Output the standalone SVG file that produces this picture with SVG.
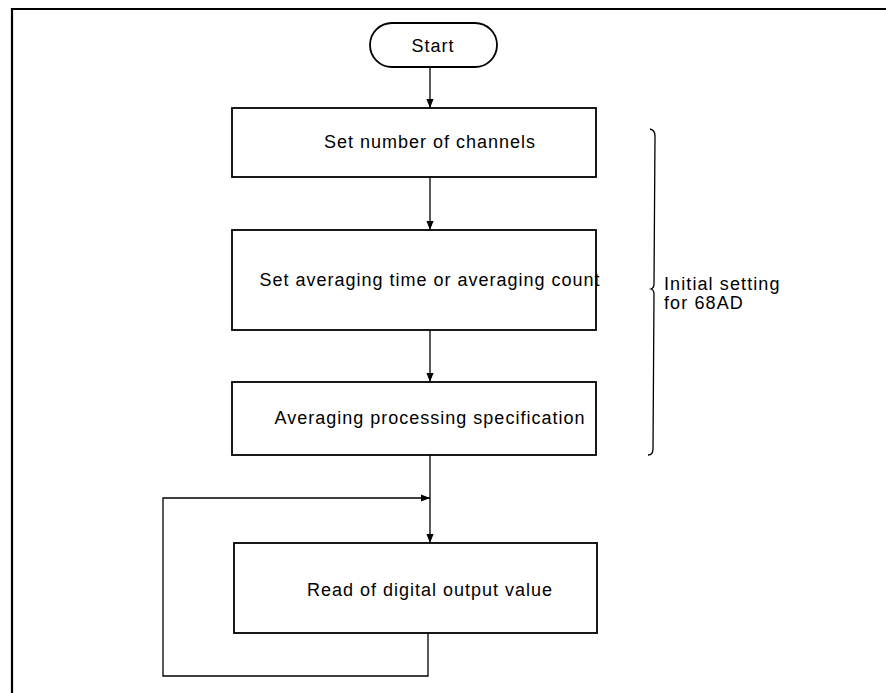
<svg xmlns="http://www.w3.org/2000/svg" width="886" height="693" viewBox="0 0 886 693">
<style>
.b{fill:#fff;stroke:#000;stroke-width:1.8}
.l{fill:none;stroke:#000;stroke-width:1.3}
.t{font-family:"Liberation Sans",Arial,sans-serif;font-size:18px;letter-spacing:1px;fill:#000;text-anchor:middle}
.s{font-family:"Liberation Sans",Arial,sans-serif;font-size:18px;letter-spacing:1.1px;fill:#000}
</style>
<defs>
<marker id="a" viewBox="0 0 10 10" refX="10" refY="5" markerWidth="9" markerHeight="9" markerUnits="userSpaceOnUse" orient="auto">
<path d="M0,1 L10,5 L0,9 Z" fill="#000"/>
</marker>
</defs>
<rect width="886" height="693" fill="#fff"/>
<path d="M12,693 L12,9 L886,9" fill="none" stroke="#000" stroke-width="2.2"/>
<g id="start"><rect class="b" x="370" y="23" width="127" height="44" rx="22"/><text class="t" x="433" y="52">Start</text></g>
<g id="n1"><rect class="b" x="232" y="108" width="364" height="69"/><text class="t" x="430" y="148">Set number of channels</text></g>
<g id="n2"><rect class="b" x="232" y="230" width="364" height="100"/><text class="t" x="430" y="286">Set averaging time or averaging count</text></g>
<g id="n3"><rect class="b" x="232" y="382" width="364" height="73"/><text class="t" x="430" y="424">Averaging processing specification</text></g>
<g id="n4"><rect class="b" x="234" y="543" width="363" height="90"/><text class="t" x="430" y="596">Read of digital output value</text></g>
<g id="brace"><path class="l" stroke-width="1.6" d="M650,129 Q655,130 655,136 L654,284 Q654,288 651,289 Q654,290 654,294 L653,449 Q653,455 648,455"/><text class="s" x="664" y="290">Initial setting</text><text class="s" x="664" y="309">for 68AD</text></g>
<g id="connectors">
<line class="l" x1="430" y1="67" x2="430" y2="108" marker-end="url(#a)"/>
<line class="l" x1="430" y1="177" x2="430" y2="230" marker-end="url(#a)"/>
<line class="l" x1="430" y1="330" x2="430" y2="382" marker-end="url(#a)"/>
<line class="l" x1="430" y1="455" x2="430" y2="543" marker-end="url(#a)"/>
<path class="l" d="M428,633 L428,676 L163,676 L163,498 L430,498" marker-end="url(#a)"/>
</g>
</svg>
